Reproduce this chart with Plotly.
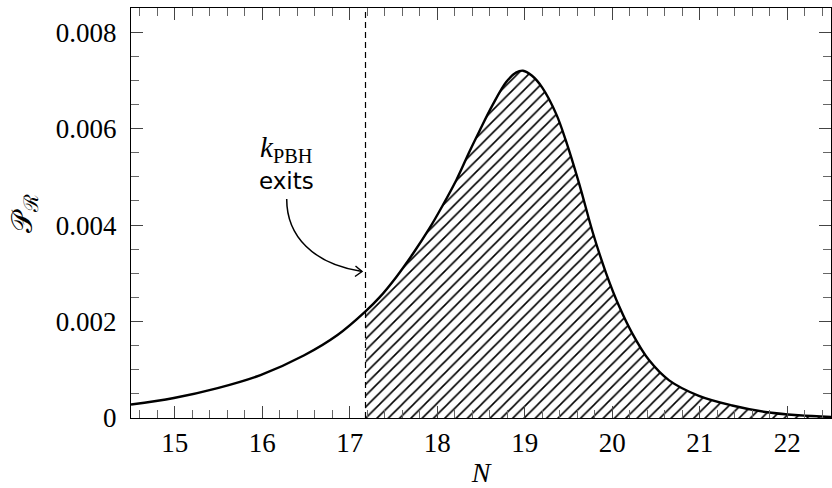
import numpy as np
import plotly.graph_objects as go

# e-fold number N and curvature power spectrum P_R
N = [14.5, 14.99, 15.49, 15.98, 16.48, 16.86, 17.18, 17.34, 17.53, 17.72, 17.91,
     18.06, 18.22, 18.37, 18.48, 18.63, 18.79, 18.90, 18.98, 19.08, 19.20, 19.36,
     19.47, 19.62, 19.78, 19.93, 20.08, 20.23, 20.42, 20.65, 20.99, 21.37, 21.75,
     22.13, 22.5]
P = [0.00028, 0.000415, 0.00062, 0.00089, 0.00130, 0.00172, 0.00221, 0.00250,
     0.00292, 0.00340, 0.00393, 0.00440, 0.00494, 0.00553, 0.00594, 0.00648,
     0.00697, 0.00716, 0.00720, 0.00710, 0.00685, 0.00630, 0.00575, 0.00487,
     0.00383, 0.00300, 0.00231, 0.00175, 0.00120, 0.00078, 0.00046, 0.00026,
     0.000125, 0.000056, 0.00002]

N_exit = 17.18  # horizon exit of k_PBH

x_ticks = [15, 16, 17, 18, 19, 20, 21, 22]
y_ticks = [0, 0.002, 0.004, 0.006, 0.008]
y_ticktext = ["0", "0.002", "0.004", "0.006", "0.008"]

x_range = [14.5, 22.5]
y_range = [0, 0.0085]

serif = "Liberation Serif, Times New Roman, serif"
sans = "DejaVu Sans, sans-serif"

N_arr = np.array(N)
P_arr = np.array(P)
mask = N_arr >= N_exit

fig = go.Figure()

# hatched region after k_PBH exits
fig.add_trace(go.Scatter(
    x=N_arr[mask], y=P_arr[mask], mode="lines",
    line=dict(color="rgba(0,0,0,0)", width=0, shape="spline", smoothing=1),
    fill="tozeroy", fillcolor="rgba(0,0,0,0)",
    fillpattern=dict(shape="/", fgcolor="black", fgopacity=1, bgcolor="white",
                     size=8, solidity=0.2),
    hoverinfo="skip", showlegend=False,
))

# full spectrum
fig.add_trace(go.Scatter(
    x=N, y=P, mode="lines",
    line=dict(color="black", width=2.4, shape="spline", smoothing=1),
    showlegend=False,
))

# dashed marker at horizon exit
fig.add_shape(type="line", x0=N_exit, x1=N_exit, y0=0, y1=1,
              xref="x", yref="paper",
              line=dict(color="black", width=1.2, dash="6px,4px"))

# pixel -> data helpers for the curved annotation arrow
plot_l, plot_w = 131.0, 700.0
plot_t, plot_h = 8.0, 410.0


def dx(px):
    return x_range[0] + (px - plot_l) / plot_w * (x_range[1] - x_range[0])


def dy(py):
    return y_range[0] + (plot_t + plot_h - py) / plot_h * (y_range[1] - y_range[0])


p0 = (286.7, 199.0)
c1 = (286.7, 236.0)
c2 = (313.0, 264.0)
p1 = (362.0, 271.5)
arrow_path = (f"M {dx(p0[0])},{dy(p0[1])} "
              f"C {dx(c1[0])},{dy(c1[1])} {dx(c2[0])},{dy(c2[1])} "
              f"{dx(p1[0])},{dy(p1[1])}")
fig.add_shape(type="path", path=arrow_path, xref="x", yref="y",
              line=dict(color="black", width=1.5))
head_path = (f"M {dx(355.5)},{dy(266.0)} L {dx(p1[0])},{dy(p1[1])} "
             f"L {dx(355.0)},{dy(276.5)}")
fig.add_shape(type="path", path=head_path, xref="x", yref="y",
              line=dict(color="black", width=1.5))

fig.add_annotation(x=dx(286), y=dy(149), xref="x", yref="y",
                   text="<i>k</i><sub>PBH</sub>", showarrow=False,
                   font=dict(family=serif, size=29, color="black"))
fig.add_annotation(x=dx(286), y=dy(181), xref="x", yref="y",
                   text="exits", showarrow=False,
                   font=dict(family=sans, size=23, color="black"))

axis_common = dict(
    showline=True, linecolor="black", linewidth=1.2, mirror="allticks",
    ticks="inside", tickcolor="#444", tickwidth=1, ticklen=12,
    showgrid=False, zeroline=False, automargin=False,
    tickfont=dict(family=serif, size=27, color="black"),
)

fig.update_xaxes(
    range=x_range, tickvals=x_ticks,
    title=dict(text="<i>N</i>", standoff=15,
               font=dict(family=serif, size=28, color="black")),
    minor=dict(dtick=0.2, tick0=15, ticks="inside", ticklen=8, tickcolor="#666"),
    **axis_common,
)
fig.update_yaxes(
    range=y_range, tickvals=y_ticks, ticktext=y_ticktext, ticklabelstandoff=8,
    title=dict(text="\U0001D4AB<sub>\u211B</sub>", standoff=14,
               font=dict(family=serif, size=29, color="black")),
    minor=dict(dtick=0.0005, tick0=0, ticks="inside", ticklen=8, tickcolor="#666"),
    **axis_common,
)

fig.update_layout(
    width=832, height=488,
    margin=dict(l=131, r=1, t=8, b=70),
    plot_bgcolor="white", paper_bgcolor="white",
)

fig.write_html("out.html")
